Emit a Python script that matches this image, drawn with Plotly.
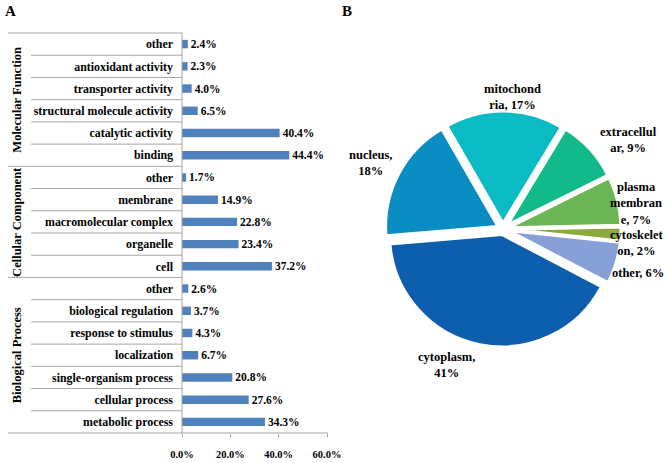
import plotly.graph_objects as go

# ---------- data: panel A ----------
groups = ["Biological Process", "Cellular Component", "Molecular Function"]
bp_names = ["metabolic process", "cellular process", "single-organism process",
            "localization", "response to stimulus", "biological regulation", "other"]
bp_values = [34.3, 27.6, 20.8, 6.7, 4.3, 3.7, 2.6]
cc_names = ["cell", "organelle", "macromolecular complex", "membrane", "other"]
cc_values = [37.2, 23.4, 22.8, 14.9, 1.7]
mf_names = ["binding", "catalytic activity", "structural molecule activity",
            "transporter activity", "antioxidant activity", "other"]
mf_values = [44.4, 40.4, 6.5, 4.0, 2.3, 2.4]
x_ticks = [0, 20, 40, 60]

# ---------- data: panel B ----------
pie_names = ["mitochondria", "extracellular", "plasma membrane", "cytoskeleton",
             "other", "cytoplasm", "nucleus"]
pie_label_text = ["mitochond<br>ria, 17%", "extracellul<br>ar, 9%", "plasma<br>membran<br>e, 7%",
                  "cytoskelet<br>on, 2%", "other, 6%", "cytoplasm,<br>41%", "nucleus,<br>18%"]
pie_values = [17, 9, 7, 2, 6, 41, 18]
pie_colors = ["#0BBBC4", "#12B98B", "#6BB554", "#8DA83C", "#86A0D7", "#0D5FAE", "#0A8DC3"]
# label anchor points (pixels) for the pie labels
pie_label_px = [(512, 97), (628, 140), (636, 203), (637, 243), (638, 273), (446, 365), (370, 163)]

W, H = 668, 463
FONT = "Liberation Serif, Times New Roman, serif"

names = bp_names + cc_names + mf_names
values = bp_values + cc_values + mf_values
ypos = list(range(len(names)))
sizes = [len(bp_names), len(cc_names), len(mf_names)]

fig = go.Figure()
fig.add_trace(go.Bar(
    x=values, y=ypos, orientation="h", width=0.38,
    marker=dict(color="#4F81BD", line=dict(width=0)),
    text=[f"<b>{v:.1f}%</b>" for v in values], textposition="outside",
    constraintext="none",
    textfont=dict(family=FONT, size=11.5, color="black"), cliponaxis=False,
    showlegend=False,
))

fig.add_trace(go.Pie(
    labels=pie_names, values=pie_values, sort=False, direction="clockwise",
    rotation=-30, marker=dict(colors=pie_colors, line=dict(color="white", width=3)),
    pull=[0.05] * len(pie_values), textinfo="none",
    domain=dict(x=[385 / W, 621 / W], y=[1 - 347 / H, 1 - 111 / H]),
    showlegend=False, hoverinfo="label+value",
))

x0p, x1p = 182 / W, 327 / W
y0p, y1p = 1 - 433 / H, 1 - 33 / H
fig.update_layout(
    width=W, height=H, margin=dict(l=0, r=0, t=0, b=0, autoexpand=False),
    paper_bgcolor="white", plot_bgcolor="white",
    xaxis=dict(domain=[x0p, x1p], range=[0, 60], tickvals=x_ticks, automargin=False,
               ticktext=[f"<b>{t:.1f}%</b>" for t in x_ticks],
               tickfont=dict(family=FONT, size=10.5, color="black"),
               showgrid=False, zeroline=False, showline=False,
               ticks="outside", ticklen=3, tickcolor="#A0A0A0",
               ticklabelstandoff=8),
    yaxis=dict(domain=[y0p, y1p], range=[-0.5, len(names) - 0.5], tickvals=ypos,
               automargin=False,
               ticktext=[f"<b>{n}</b>" for n in names],
               tickfont=dict(family=FONT, size=11.9, color="black"),
               showgrid=False, zeroline=False, showline=False, ticks="",
               ticklabelstandoff=8),
    font=dict(family=FONT, color="black"),
)

line_c = "#A6A6A6"
shapes = []
shapes.append(dict(type="line", xref="paper", yref="paper", x0=8 / W, x1=328 / W, y0=y0p, y1=y0p,
                   line=dict(color=line_c, width=1)))
shapes.append(dict(type="line", xref="paper", yref="paper", x0=x0p, x1=x0p, y0=y0p, y1=y1p,
                   line=dict(color=line_c, width=1)))
shapes.append(dict(type="line", xref="paper", yref="paper", x0=8 / W, x1=x0p, y0=y1p, y1=y1p,
                   line=dict(color=line_c, width=1)))
start = 0
group_bounds = []
for s in sizes:
    group_bounds.append((start, start + s))
    start += s
for (a, b) in group_bounds:
    for i in range(a, b - 1):
        shapes.append(dict(type="line", xref="paper", yref="y", x0=31 / W, x1=x0p,
                           y0=i + 0.5, y1=i + 0.5, line=dict(color=line_c, width=1)))
    if b < len(names):
        shapes.append(dict(type="line", xref="paper", yref="y", x0=8 / W, x1=x0p,
                           y0=b - 0.5, y1=b - 0.5, line=dict(color=line_c, width=1)))
fig.update_layout(shapes=shapes)

annotations = []
for g, (a, b) in zip(groups, group_bounds):
    annotations.append(dict(text=f"<b>{g}</b>", xref="paper", yref="y", x=17 / W,
                            y=(a + b - 1) / 2, textangle=-90, showarrow=False,
                            font=dict(family=FONT, size=12.5, color="black"),
                            xanchor="center", yanchor="middle"))
for t, (px, py) in zip(pie_label_text, pie_label_px):
    annotations.append(dict(text=f"<b>{t}</b>", xref="paper", yref="paper", x=px / W,
                            y=1 - py / H, showarrow=False, xanchor="center", yanchor="middle",
                            align="center", font=dict(family=FONT, size=12.5, color="black")))
annotations.append(dict(text="<b>A</b>", xref="paper", yref="paper", x=3 / W, y=1 - 1 / H,
                        showarrow=False, xanchor="left", yanchor="top",
                        font=dict(family=FONT, size=15, color="black")))
annotations.append(dict(text="<b>B</b>", xref="paper", yref="paper", x=340 / W, y=1 - 1 / H,
                        showarrow=False, xanchor="left", yanchor="top",
                        font=dict(family=FONT, size=15, color="black")))
fig.update_layout(annotations=annotations)

fig.write_html("out.html", config={"displayModeBar": False},
               post_script="document.body.style.margin='0';")
